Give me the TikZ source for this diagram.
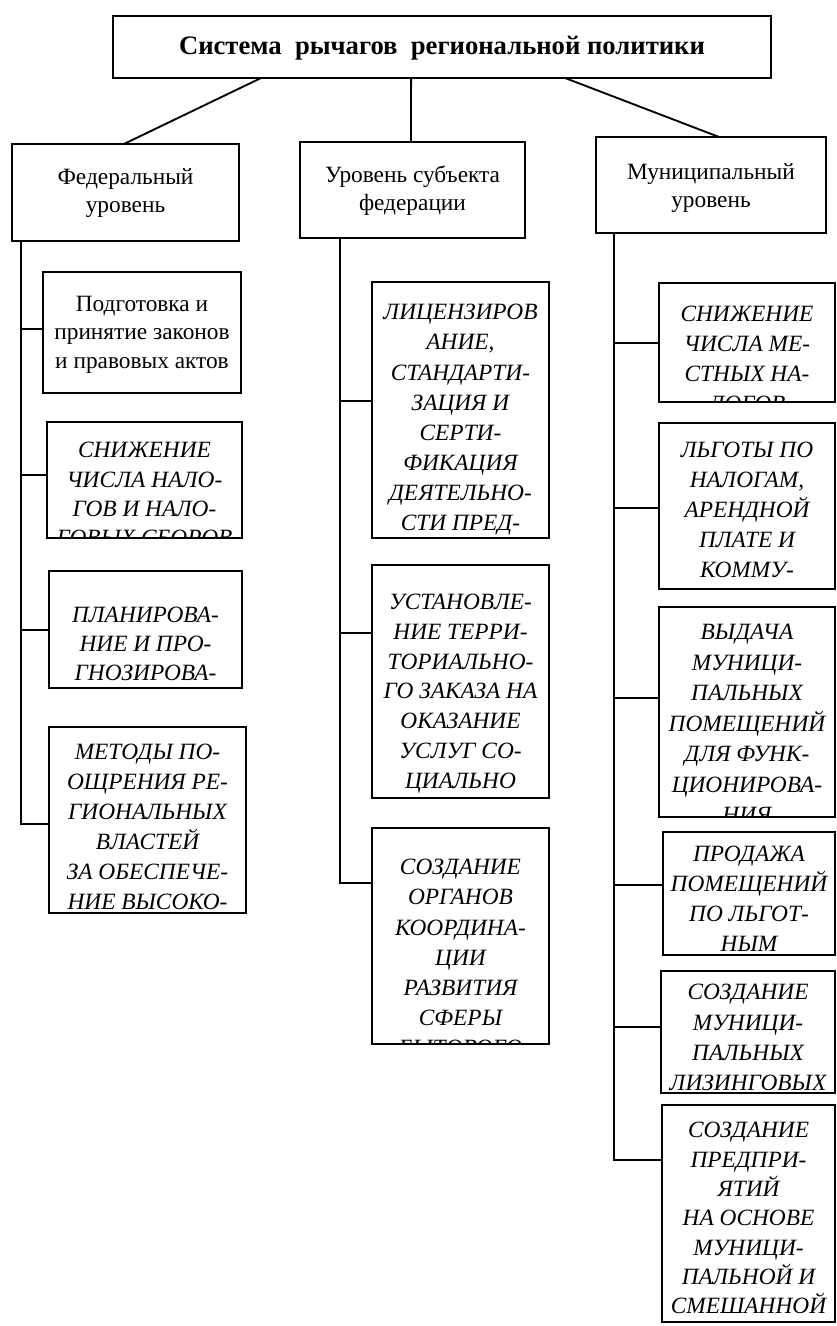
\documentclass[tikz,border=0pt]{standalone}
\usepackage{fontspec}
\setmainfont{Liberation Serif}
\usetikzlibrary{calc}
\tikzset{
  boxst/.style={draw, line width=1.4pt, outer sep=0pt, inner sep=0pt},
  txt/.style={inner sep=0pt, anchor=north, align=center},
  con/.style={line width=1.4pt},
}
% name, x1, y1, x2, y2, first baseline (px), line spacing (pt), font cmds, text
\newcommand\mybox[9]{%
  \node[boxst, anchor=north west, minimum width={(#4-#2)*0.75pt}, minimum height={(#5-#3)*0.75pt}] (#1) at (#2,#3) {};
  \begin{scope}
    \clip (#1.north west) rectangle (#1.south east);
    \node[txt, font={\fontsize{17.5pt}{#7pt}\selectfont#8}] (#1t) at ({(#2+#4)/2},{#6-21.333}) {\rule{0pt}{16pt}#9};
  \end{scope}
}
\begin{document}
\begin{tikzpicture}[x=0.75pt,y=-0.75pt]
\useasboundingbox (0,0) rectangle (836,1326);
\fill[white] (0,0) rectangle (836,1326);

% title and level boxes
\mybox{top}{113}{16}{771}{78}{54}{24}{\bfseries\fontsize{20pt}{24pt}\selectfont}{Система\ \ рычагов\ \ региональной политики}
\mybox{fed}{12}{144}{239}{241}{184}{21}{}{Федеральный\\уровень}
\mybox{mid}{300}{142}{525}{238}{182}{21}{}{Уровень субъекта\\федерации}
\mybox{mun}{596}{137}{826}{233}{179}{21}{}{Муниципальный\\уровень}

\draw[con] ($(top.south west)!0.225!(top.south east)$) -- ($(fed.north west)!0.493!(fed.north east)$);
\draw[con] ($(top.south west)!0.453!(top.south east)$) -- ($(mid.north west)!0.493!(mid.north east)$);
\draw[con] ($(top.south west)!0.687!(top.south east)$) -- ($(mun.north west)!0.535!(mun.north east)$);

% federal column
\mybox{f1}{43}{272}{241}{393}{311}{21.5}{}{Подготовка и\\принятие законов\\и правовых актов}
\mybox{f2}{47}{422}{242}{538}{457.5}{22}{\itshape}{СНИЖЕНИЕ\\ЧИСЛА НАЛО-\\ГОВ И НАЛО-\\ГОВЫХ СБОРОВ}
\mybox{f3}{49}{571}{242}{688}{622.5}{21.5}{\itshape}{ПЛАНИРОВА-\\НИЕ И ПРО-\\ГНОЗИРОВА-}
\mybox{f4}{49}{727}{246}{913}{759.5}{22.5}{\itshape}{МЕТОДЫ ПО-\\ОЩРЕНИЯ РЕ-\\ГИОНАЛЬНЫХ\\ВЛАСТЕЙ\\ЗА ОБЕСПЕЧЕ-\\НИЕ ВЫСОКО-}

% subject column
\mybox{m1}{372}{282}{549}{538}{319.5}{22.6}{\itshape}{ЛИЦЕНЗИРОВ\\АНИЕ,\\СТАНДАРТИ-\\ЗАЦИЯ И\\СЕРТИ-\\ФИКАЦИЯ\\ДЕЯТЕЛЬНО-\\СТИ ПРЕД-}
\mybox{m2}{372}{565}{549}{798}{609.5}{22.3}{\itshape}{УСТАНОВЛЕ-\\НИЕ ТЕРРИ-\\ТОРИАЛЬНО-\\ГО ЗАКАЗА НА\\ОКАЗАНИЕ\\УСЛУГ СО-\\ЦИАЛЬНО}
\mybox{m3}{372}{828}{549}{1044}{874.5}{22.65}{\itshape}{СОЗДАНИЕ\\ОРГАНОВ\\КООРДИНА-\\ЦИИ\\РАЗВИТИЯ\\СФЕРЫ\\БЫТОВОГО}

% municipal column
\mybox{r1}{659}{283}{835}{402}{321.5}{22.5}{\itshape}{СНИЖЕНИЕ\\ЧИСЛА МЕ-\\СТНЫХ НА-\\ЛОГОВ}
\mybox{r2}{659}{423}{835}{589}{457.5}{22.5}{\itshape}{ЛЬГОТЫ ПО\\НАЛОГАМ,\\АРЕНДНОЙ\\ПЛАТЕ И\\КОММУ-}
\mybox{r3}{659}{607}{835}{817}{639.5}{22.9}{\itshape}{ВЫДАЧА\\МУНИЦИ-\\ПАЛЬНЫХ\\ПОМЕЩЕНИЙ\\ДЛЯ ФУНК-\\ЦИОНИРОВА-\\НИЯ}
\mybox{r4}{663}{832}{835}{955}{861}{22.5}{\itshape}{ПРОДАЖА\\ПОМЕЩЕНИЙ\\ПО ЛЬГОТ-\\НЫМ}
\mybox{r5}{661}{971}{835}{1093}{999.5}{22.7}{\itshape}{СОЗДАНИЕ\\МУНИЦИ-\\ПАЛЬНЫХ\\ЛИЗИНГОВЫХ}
\mybox{r6}{662}{1105}{835}{1322}{1137.5}{22}{\itshape}{СОЗДАНИЕ\\ПРЕДПРИ-\\ЯТИЙ\\НА ОСНОВЕ\\МУНИЦИ-\\ПАЛЬНОЙ И\\СМЕШАННОЙ}

% trunk branch points
\coordinate (L1) at (21,329);
\coordinate (L2) at (21,475);
\coordinate (L3) at (21,630);
\coordinate (L4) at (21,824);
\coordinate (M1) at (340,401);
\coordinate (M2) at (340,633);
\coordinate (M3) at (340,883);
\coordinate (R1) at (614,343);
\coordinate (R2) at (614,508);
\coordinate (R3) at (614,698);
\coordinate (R4) at (614,885);
\coordinate (R5) at (614,1027);
\coordinate (R6) at (614,1160);

\draw[con] (fed.south -| L1) -- (L4) -- (L4 -| f4.west);
\draw[con] (L1) -- (L1 -| f1.west);
\draw[con] (L2) -- (L2 -| f2.west);
\draw[con] (L3) -- (L3 -| f3.west);

\draw[con] (mid.south -| M1) -- (M3) -- (M3 -| m3.west);
\draw[con] (M1) -- (M1 -| m1.west);
\draw[con] (M2) -- (M2 -| m2.west);

\draw[con] (mun.south -| R1) -- (R6) -- (R6 -| r6.west);
\draw[con] (R1) -- (R1 -| r1.west);
\draw[con] (R2) -- (R2 -| r2.west);
\draw[con] (R3) -- (R3 -| r3.west);
\draw[con] (R4) -- (R4 -| r4.west);
\draw[con] (R5) -- (R5 -| r5.west);
\end{tikzpicture}
\end{document}
